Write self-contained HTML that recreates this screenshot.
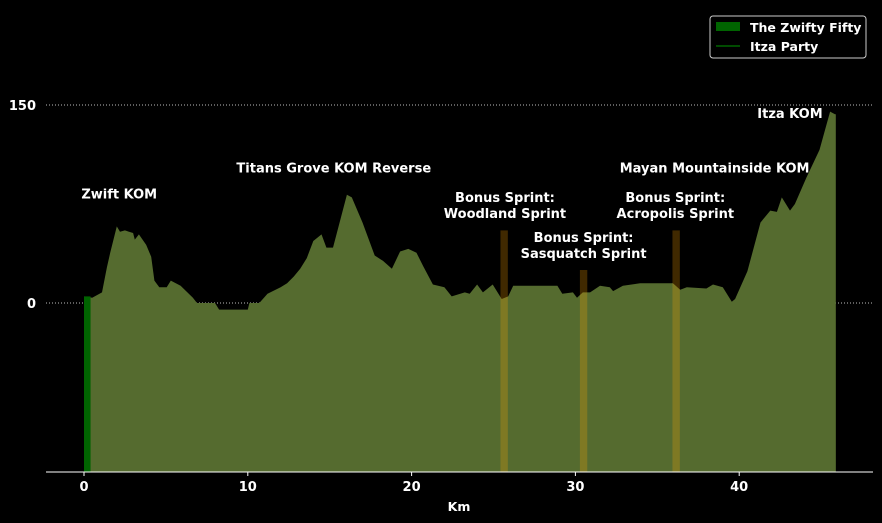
<!DOCTYPE html>
<html><head><meta charset="utf-8"><style>
html,body{margin:0;background:#000;overflow:hidden;width:882px;height:523px;}
svg{display:block;}
svg text{font-family:"DejaVu Sans","Liberation Sans",sans-serif;fill:#fff;}
</style></head><body>
<svg id="chart" width="882" height="523" viewBox="0 0 882 523">
<rect width="882" height="523" fill="#000"/>
<g id="grid"></g>
<g id="profile"></g>
<g id="sprints"></g>
<g id="axes"></g>
<g id="labels"></g>
<g>
<rect x="710" y="16" width="156" height="42" rx="3" fill="#000" stroke="#ccc" stroke-width="1"/>
<rect x="716" y="22" width="24" height="9" fill="#006400"/>
<text x="750" y="32" font-size="12.5" font-weight="bold">The Zwifty Fifty</text>
<line x1="716" y1="46" x2="740" y2="46" stroke="#006400" stroke-width="1.5"/>
<text x="750" y="51" font-size="12.5" font-weight="bold">Itza Party</text>
</g>
</svg>
<script>
const distKm=[0,0.5,1.1,1.4,1.6,2.0,2.2,2.5,3.0,3.1,3.35,3.8,4.1,4.3,4.6,5.05,5.3,5.9,6.65,6.9,8.0,8.25,10.0,10.1,10.7,11.2,12.0,12.4,12.8,13.2,13.6,14.0,14.5,14.8,15.2,16.05,16.35,17.0,17.75,18.25,18.8,19.3,19.8,20.3,20.7,21.3,22.0,22.45,23.25,23.55,24.0,24.35,24.95,25.5,25.9,26.2,28.9,29.2,29.85,30.1,30.45,30.9,31.5,32.1,32.3,32.9,33.95,35.0,35.95,36.4,36.8,38.0,38.4,39.0,39.55,39.75,40.5,41.3,41.9,42.3,42.6,43.1,43.4,44.1,44.9,45.55,45.85,45.9];
const elevation=[5,4,8,27,38,58,54,55,53,48,52,44,35,17,12,12,17,13,4,0,0,-5,-5,0,0,7,12,15,20,26,34,47,52,42,42,82,80,61,36,32,26,39,41,38,28,14,12,5,8,7,14,8,14,3,5,13,13,7,8,4,8,8,13,12,9,13,15,15,15,10,12,11,14,12,1,3,24,61,70,69,80,70,75,95,116,145,143,143];
const sprintNames=["Woodland Sprint","Sasquatch Sprint","Acropolis Sprint"];
const sprintKm=[25.65,30.5,36.15];
const sprintTop=[55,25,55];
const sprintWidth=0.45;
const startBar=[0,0.4,5];
const xTicks=[0,10,20,30,40];
const yTicks=[0,150];
const annotations=["Zwift KOM","Titans Grove KOM Reverse","Bonus Sprint:|Woodland Sprint","Bonus Sprint:|Sasquatch Sprint","Mayan Mountainside KOM","Bonus Sprint:|Acropolis Sprint","Itza KOM"];
const annoX=[2.15,15.25,25.7,30.5,38.5,36.1,43.1];
const annoY=[79,99,65,35,99,65,140];

const X=k=>84+k*16.38, Y=v=>303-v*1.32, BOT=472;
const NS="http://www.w3.org/2000/svg";
function mk(t,a,p){const e=document.createElementNS(NS,t);for(const k in a)e.setAttribute(k,a[k]);p.appendChild(e);return e;}
const grid=document.getElementById('grid'),prof=document.getElementById('profile'),sp=document.getElementById('sprints'),ax=document.getElementById('axes'),lb=document.getElementById('labels');
yTicks.forEach(v=>{
 const l=mk('line',{x1:46,x2:873,y1:Y(v),y2:Y(v),stroke:'#bbb','stroke-width':1,'stroke-dasharray':'1,2'},grid);
 
 
 const t=mk('text',{x:36,y:Y(v)+5,'text-anchor':'end','font-size':13,'font-weight':'bold'},ax);
 t.textContent=v;
 
 
});
let d='M'+X(distKm[0])+','+BOT;
distKm.forEach((k,i)=>{d+=' L'+X(k).toFixed(1)+','+Y(elevation[i]).toFixed(1);});
d+=' L'+X(distKm[distKm.length-1])+','+BOT+' Z';
const area=mk('path',{d:d,fill:'#556b2f'},prof);


const sb=mk('rect',{x:X(startBar[0]),y:Y(startBar[2]),width:X(startBar[1])-X(startBar[0]),height:BOT-Y(startBar[2]),fill:'#006400'},prof);


sprintKm.forEach((k,i)=>{
 const r=mk('rect',{x:X(k-sprintWidth/2),y:Y(sprintTop[i]),width:sprintWidth*16.38,height:BOT-Y(sprintTop[i]),fill:'#ffa500','fill-opacity':0.25},sp);
 
 
});
mk('line',{x1:46,x2:873,y1:BOT,y2:BOT,stroke:'#fff','stroke-width':1},ax);
xTicks.forEach(k=>{
 mk('line',{x1:X(k),x2:X(k),y1:BOT,y2:BOT+4,stroke:'#fff'},ax);
 const t=mk('text',{x:X(k),y:BOT+19,'text-anchor':'middle','font-size':13,'font-weight':'bold'},ax);
 t.textContent=k;
 
 
});
const xt=mk('text',{x:459,y:511,'text-anchor':'middle','font-size':12.5,'font-weight':'bold'},ax);
xt.textContent='Km';


annotations.forEach((s,i)=>{
 const parts=s.split('|');
 const y0=Y(annoY[i])-(parts.length-1)*15;
 parts.forEach((p,j)=>{
  const t=mk('text',{x:X(annoX[i]),y:y0+j*16,'text-anchor':'middle','font-size':13,'font-weight':'bold'},lb);
  t.textContent=p;
  
  
 });
});
</script>
</body></html>
